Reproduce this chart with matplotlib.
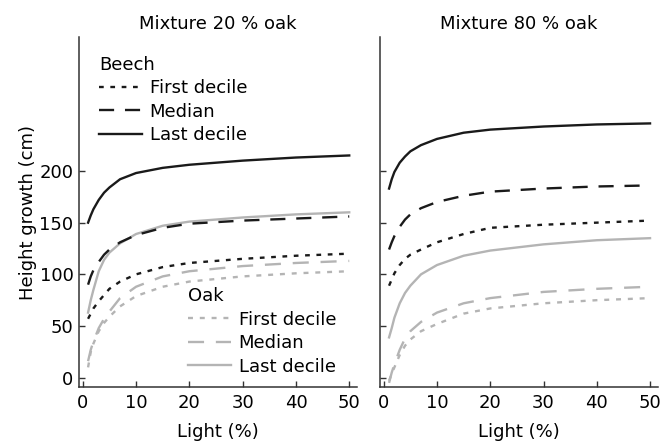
import matplotlib
matplotlib.use('Agg')
from matplotlib import pyplot as plt

# light levels (%) at which the curves were read
light = [1, 1.5, 2, 3, 4, 5, 7, 10, 15, 20, 30, 40, 50]

# Mixture 20 % oak
beech20_first = [57, 62, 67, 74, 80, 86, 93, 100, 107, 111, 115, 118, 120]
beech20_median = [90, 98, 104, 112, 119, 124, 131, 138, 145, 149, 152, 154, 156]
beech20_last = [150, 157, 163, 172, 179, 184, 192, 198, 203, 206, 210, 213, 215]
oak20_first = [10, 25, 33, 45, 53, 59, 69, 79, 88, 93, 98, 101, 103]
oak20_median = [16, 27, 35, 48, 57, 64, 77, 88, 98, 103, 108, 111, 113]
oak20_last = [63, 75, 85, 103, 114, 121, 130, 139, 147, 151, 155, 158, 160]

# Mixture 80 % oak
beech80_first = [89, 95, 101, 109, 115, 119, 124, 131, 139, 145, 148, 150, 152]
beech80_median = [124, 131, 137, 146, 153, 158, 164, 170, 176, 180, 183, 185, 186]
beech80_last = [183, 192, 199, 208, 214, 219, 225, 231, 237, 240, 243, 245, 246]
oak80_first = [-3, 4, 10, 22, 31, 37, 45, 52, 62, 67, 72, 75, 77]
oak80_median = [-5, 5, 13, 27, 38, 45, 54, 63, 72, 77, 83, 86, 88]
oak80_last = [39, 48, 58, 72, 82, 89, 100, 109, 118, 123, 129, 133, 135]

titles = ['Mixture 20 % oak', 'Mixture 80 % oak']
labels = ['First decile', 'Median', 'Last decile']
xticks = [0, 10, 20, 30, 40, 50]
yticks = [0, 50, 100, 150, 200]

BLACK = '#1a1a1a'
GRAY = '#b4b4b4'
# dash patterns in line-width units
STYLES = {
    ('beech', 0): dict(color=BLACK, dashes=(2.0, 2.8)),
    ('beech', 1): dict(color=BLACK, dashes=(6.4, 4.6)),
    ('beech', 2): dict(color=BLACK, linestyle='-'),
    ('oak', 0): dict(color=GRAY, dashes=(2.1, 2.9)),
    ('oak', 1): dict(color=GRAY, dashes=(6.8, 5.0)),
    ('oak', 2): dict(color=GRAY, linestyle='-'),
}

plt.rcParams['font.family'] = 'DejaVu Sans'
plt.rcParams['font.size'] = 13


def draw_panel(ax, title, beech, oak):
    """draw one mixture panel, return the line handles"""
    handles = {'beech': [], 'oak': []}
    for species, curves in (('oak', oak), ('beech', beech)):
        for i, values in enumerate(curves):
            line, = ax.plot(light, values, lw=1.7, **STYLES[(species, i)])
            handles[species].append(line)
    ax.set_xlim(-0.7, 51.5)
    ax.set_ylim(-9, 329.6)
    ax.set_xticks(xticks)
    ax.set_yticks(yticks)
    ax.tick_params(direction='in', length=4, width=1, color='#333333', labelsize=13, pad=4)
    ax.tick_params(axis='x', pad=5)
    for side in ('top', 'right'):
        ax.spines[side].set_visible(False)
    for side in ('left', 'bottom'):
        ax.spines[side].set_linewidth(1.1)
        ax.spines[side].set_color('#333333')
    ax.set_title(title, fontsize=13, pad=6)
    ax.set_xlabel('Light (%)', fontsize=13, labelpad=8)
    return handles


fig = plt.figure(figsize=(6.64, 4.42), dpi=100)
ax1 = fig.add_axes([0.119, 0.1244, 0.419, 0.7919])
ax2 = fig.add_axes([0.5723, 0.1244, 0.4187, 0.7919])

h1 = draw_panel(ax1, titles[0], [beech20_first, beech20_median, beech20_last],
                [oak20_first, oak20_median, oak20_last])
draw_panel(ax2, titles[1], [beech80_first, beech80_median, beech80_last],
           [oak80_first, oak80_median, oak80_last])
ax1.set_ylabel('Height growth (cm)', fontsize=13, labelpad=2)
ax2.tick_params(axis='y', labelleft=False)

leg_kw = dict(loc='upper left', frameon=False, fontsize=13, title_fontsize=13,
              alignment='left', handlelength=2.4, handletextpad=0.4,
              labelspacing=0.3, borderpad=0, borderaxespad=0)
leg_beech = ax1.legend(h1['beech'], labels, title='Beech', bbox_to_anchor=(0.072, 0.946), **leg_kw)
ax1.add_artist(leg_beech)
ax1.legend(h1['oak'], labels, title='Oak', bbox_to_anchor=(0.392, 0.285), **leg_kw)

fig.savefig('out.png', dpi=100)
